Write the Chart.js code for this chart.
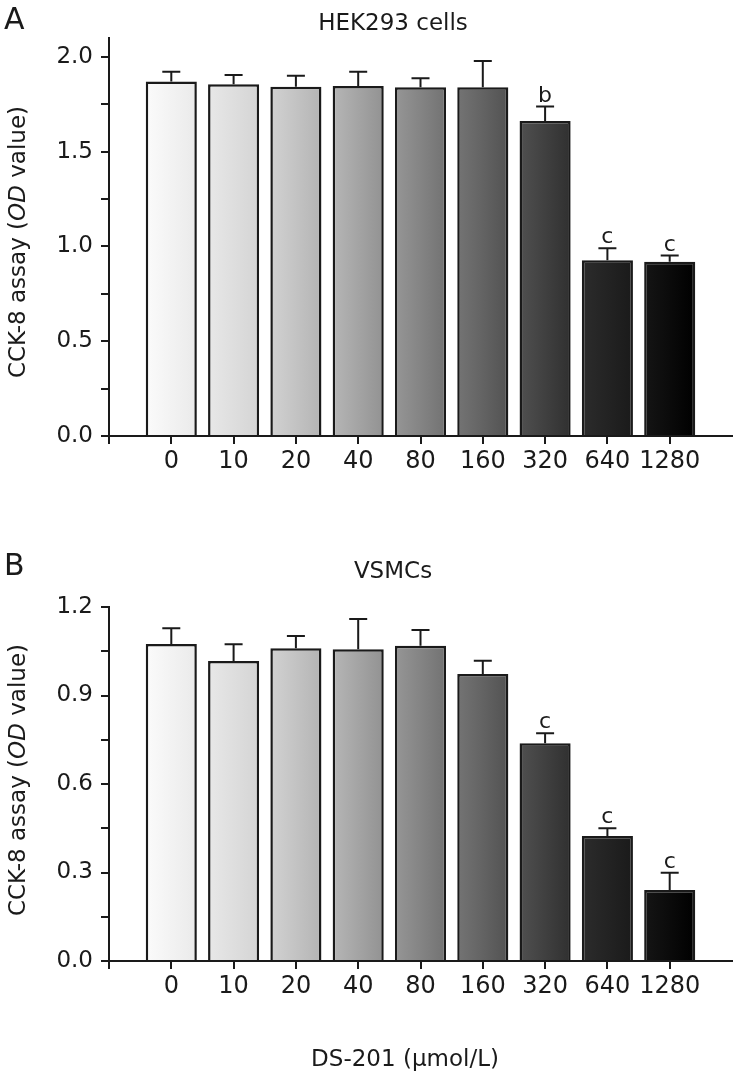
<!DOCTYPE html>
<html>
<head>
<meta charset="utf-8">
<script src="https://cdn.jsdelivr.net/npm/chart.js@4"></script>
<style>
  body { margin: 0; background: #fff; }
  canvas { position: absolute; left: 0; }
  #panelA { top: 0; }
  #panelB { top: 510px; }
</style>
</head>
<body>
<canvas id="panelA" width="740" height="510"></canvas>
<canvas id="panelB" width="740" height="571"></canvas>
<script>
const doses = ["0", "10", "20", "40", "80", "160", "320", "640", "1280"];

const hekMeans = [1.870, 1.856, 1.843, 1.847, 1.840, 1.840, 1.662, 0.927, 0.920];
const hekErrors = [0.052, 0.049, 0.058, 0.075, 0.048, 0.139, 0.076, 0.063, 0.032];
const hekMarks = ["", "", "", "", "", "", "b", "c", "c"];
const hekMajorTicks = [0, 0.5, 1.0, 1.5, 2.0];

const vsmcMeans = [1.075, 1.017, 1.060, 1.057, 1.069, 0.973, 0.738, 0.424, 0.241];
const vsmcErrors = [0.053, 0.057, 0.042, 0.102, 0.053, 0.045, 0.034, 0.026, 0.058];
const vsmcMarks = ["", "", "", "", "", "", "c", "c", "c"];
const vsmcMajorTicks = [0, 0.3, 0.6, 0.9, 1.2];

const barLeft = ["#fbfbfb", "#e8e8e8", "#d2d2d2", "#b6b6b6", "#969696", "#747474", "#505050", "#2c2c2c", "#151515"];
const barRight = ["#eaeaea", "#d4d4d4", "#b4b4b4", "#929292", "#727272", "#525252", "#303030", "#1a1a1a", "#000000"];

const fontFam = "'DejaVu Sans', sans-serif";
const ink = "#1a1a1a";

// error bars + significance letters, drawn through the chart scales
const errorBarPlugin = {
  id: "errorBars",
  afterDatasetsDraw(chart) {
    const p = chart.options.plugins.errorBars;
    const xs = chart.scales.x, ys = chart.scales.y;
    const c = chart.ctx;
    c.save();
    c.strokeStyle = ink;
    c.lineWidth = 2;
    c.fillStyle = ink;
    c.font = "22px " + fontFam;
    c.textAlign = "center";
    c.textBaseline = "alphabetic";
    p.means.forEach((m, i) => {
      const x = xs.getPixelForValue(i);
      const y0 = ys.getPixelForValue(m);
      const y1 = ys.getPixelForValue(m + p.errors[i]);
      c.beginPath();
      c.moveTo(x, y0);
      c.lineTo(x, y1);
      c.moveTo(x - 9, y1);
      c.lineTo(x + 9, y1);
      c.stroke();
      if (p.marks[i]) c.fillText(p.marks[i], x, y1 - 5);
    });
    c.restore();
  }
};

// panel letter, title, axis titles (OD in italics)
const textPlugin = {
  id: "panelText",
  afterDraw(chart) {
    const p = chart.options.plugins.panelText;
    const c = chart.ctx;
    c.save();
    c.fillStyle = ink;
    c.textBaseline = "alphabetic";
    c.font = "30px " + fontFam;
    c.textAlign = "left";
    c.fillText(p.letter, 4, p.letterY);
    c.font = "23px " + fontFam;
    c.textAlign = "center";
    c.fillText(p.title, 393, p.titleY);
    if (p.xTitle) {
      c.font = "23px " + fontFam;
      c.fillText(p.xTitle, 405, p.xTitleY);
    }
    // rotated y title
    const parts = [["CCK-8 assay (", ""], ["OD", "italic "], [" value)", ""]];
    let total = 0;
    parts.forEach(pt => { c.font = pt[1] + "23px " + fontFam; total += c.measureText(pt[0]).width; });
    c.translate(19, p.yTitleY);
    c.rotate(-Math.PI / 2);
    c.textAlign = "left";
    c.textBaseline = "middle";
    let x = -total / 2;
    parts.forEach(pt => {
      c.font = pt[1] + "23px " + fontFam;
      c.fillText(pt[0], x, 0);
      x += c.measureText(pt[0]).width;
    });
    c.restore();
  }
};

function makePanel(canvas, means, errors, marks, majorTicks, yMax, yStep, text, topPad, xHeight) {
  const isMajor = v => majorTicks.some(t => Math.abs(t - v) < 1e-6);
  return new Chart(canvas, {
    type: "bar",
    data: {
      datasets: [{
        data: means.map((v, i) => ({ x: i, y: v })),
        backgroundColor(ctx) {
          const chart = ctx.chart;
          const i = ctx.dataIndex;
          if (!chart.chartArea) return barLeft[i];
          const xs = chart.scales.x;
          const cx = xs.getPixelForValue(i);
          const half = (xs.getPixelForValue(1) - xs.getPixelForValue(0)) * 0.41;
          const g = chart.ctx.createLinearGradient(cx - half, 0, cx + half, 0);
          g.addColorStop(0, barLeft[i]);
          g.addColorStop(1, barRight[i]);
          return g;
        },
        borderColor: ink,
        borderWidth: 2.5,
        barPercentage: 1,
        categoryPercentage: 0.82
      }]
    },
    options: {
      responsive: false,
      animation: false,
      layout: { padding: { top: topPad, right: 8, left: 0, bottom: 0 } },
      plugins: {
        legend: { display: false },
        tooltip: { enabled: false },
        errorBars: { means, errors, marks },
        panelText: text
      },
      scales: {
        x: {
          type: "linear",
          min: -1,
          max: 9,
          offset: false,
          afterFit(s) { s.height = xHeight; },
          grid: {
            offset: false,
            drawOnChartArea: false,
            tickLength: 8,
            lineWidth: 2,
            tickColor: ctx => (ctx.tick && ctx.tick.value >= 9 ? "rgba(0,0,0,0)" : ink)
          },
          border: { color: ink, width: 2 },
          ticks: {
            stepSize: 1,
            autoSkip: false,
            maxRotation: 0,
            padding: 3,
            color: ink,
            font: { family: fontFam, size: 24 },
            callback: v => (v >= 0 && v < doses.length ? doses[v] : "")
          }
        },
        y: {
          min: 0,
          max: yMax,
          afterFit(s) { s.width = 109; },
          grid: {
            drawOnChartArea: false,
            tickLength: 8,
            lineWidth: 2,
            tickColor: ink
          },
          border: { color: ink, width: 2 },
          ticks: {
            stepSize: yStep,
            includeBounds: false,
            padding: 8,
            color: ink,
            font: { family: fontFam, size: 23 },
            callback: v => (isMajor(v) ? v.toFixed(1) : "")
          }
        }
      }
    },
    plugins: [errorBarPlugin, textPlugin]
  });
}

makePanel(document.getElementById("panelA"), hekMeans, hekErrors, hekMarks, hekMajorTicks, 2.1, 0.25,
  { letter: "A", letterY: 29, title: "HEK293 cells", titleY: 30, yTitleY: 242 }, 38, 74);

makePanel(document.getElementById("panelB"), vsmcMeans, vsmcErrors, vsmcMarks, vsmcMajorTicks, 1.2, 0.15,
  { letter: "B", letterY: 65, title: "VSMCs", titleY: 68, yTitleY: 270, xTitle: "DS-201 (μmol/L)", xTitleY: 556 }, 97, 120);
</script>
</body>
</html>
